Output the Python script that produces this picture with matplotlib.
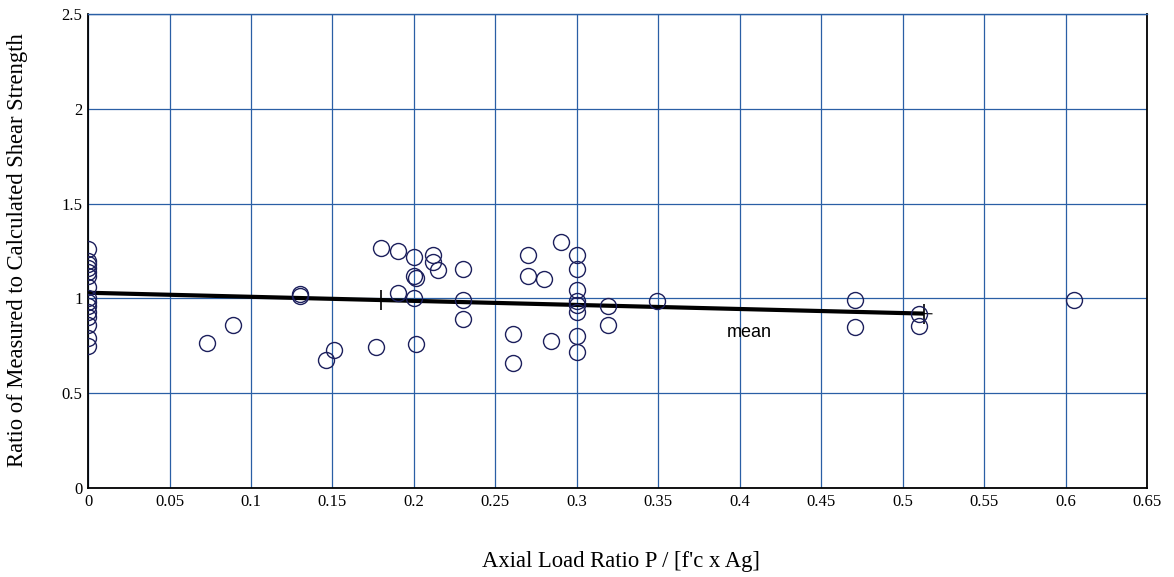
import matplotlib
matplotlib.use("Agg")
import matplotlib.pyplot as plt
import numpy as np

# Test specimens: axial load ratio vs. measured / calculated shear strength
axial_ratio = [
    0, 0, 0, 0, 0, 0, 0, 0, 0, 0, 0, 0, 0, 0, 0,
    0.073, 0.089,
    0.130, 0.130,
    0.146, 0.151, 0.177,
    0.180, 0.190, 0.190,
    0.200, 0.200, 0.201, 0.200, 0.201,
    0.212, 0.212, 0.215,
    0.230, 0.230, 0.230,
    0.261, 0.261,
    0.270, 0.270, 0.280, 0.284, 0.290,
    0.300, 0.300, 0.300, 0.300, 0.300, 0.300, 0.300, 0.300,
    0.319, 0.319,
    0.349,
    0.471, 0.471,
    0.510, 0.510,
    0.605,
]
strength_ratio = [
    1.26, 1.20, 1.18, 1.16, 1.14, 1.12, 1.06, 1.00, 0.98, 0.96, 0.93, 0.90, 0.86, 0.79, 0.75,
    0.765, 0.86,
    1.025, 1.015,
    0.675, 0.728, 0.744,
    1.266, 1.25, 1.03,
    1.22, 1.12, 1.11, 1.00, 0.76,
    1.23, 1.19, 1.15,
    1.155, 0.99, 0.89,
    0.81, 0.66,
    1.23, 1.12, 1.10, 0.775, 1.30,
    1.23, 1.155, 1.045, 0.985, 0.965, 0.93, 0.80, 0.72,
    0.96, 0.86,
    0.985,
    0.99, 0.85,
    0.92, 0.855,
    0.99,
]

# Mean trend line end points and its bracket ticks
mean_x = [0.0, 0.513]
mean_y = [1.03, 0.92]
mean_tick_x = [0.18, 0.513]

x_ticks = [0, 0.05, 0.1, 0.15, 0.2, 0.25, 0.3, 0.35, 0.4, 0.45, 0.5, 0.55, 0.6, 0.65]
x_tick_labels = ["0", "0.05", "0.1", "0.15", "0.2", "0.25", "0.3", "0.35", "0.4",
                 "0.45", "0.5", "0.55", "0.6", "0.65"]
y_ticks = [0, 0.5, 1, 1.5, 2, 2.5]
y_tick_labels = ["0", "0.5", "1", "1.5", "2", "2.5"]

grid_blue = "#2a5fa5"
marker_navy = "#1c1f5c"
serif = ["Liberation Serif", "DejaVu Serif"]

fig = plt.figure(figsize=(11.74, 5.77), dpi=100)
ax = fig.add_axes([0.075, 0.1542, 0.902, 0.8215])

ax.set_xlim(0, 0.65)
ax.set_ylim(0, 2.5)
ax.set_xticks(x_ticks)
ax.set_xticklabels(x_tick_labels)
ax.set_yticks(y_ticks)
ax.set_yticklabels(y_tick_labels)
ax.tick_params(length=0, pad=4, labelsize=12)
for lab in ax.get_xticklabels() + ax.get_yticklabels():
    lab.set_family(serif)

ax.grid(True, color=grid_blue, linewidth=0.9, zorder=0)
ax.set_axisbelow(True)

for side in ("left", "bottom", "right"):
    ax.spines[side].set_color("black")
    ax.spines[side].set_linewidth(1.3)
ax.spines["top"].set_color(grid_blue)
ax.spines["top"].set_linewidth(1.0)

# Mean line with end ticks
ax.plot(mean_x, mean_y, color="black", linewidth=3.0, solid_capstyle="butt", zorder=3)
slope = (mean_y[1] - mean_y[0]) / (mean_x[1] - mean_x[0])
tick_y = [mean_y[0] + slope * (t - mean_x[0]) for t in mean_tick_x]
ax.plot(mean_tick_x, tick_y, linestyle="none", marker="|", markersize=14,
        markeredgewidth=1.2, color="black", zorder=3)
ax.plot([mean_x[1], 0.518], [mean_y[1], mean_y[1] - 0.001], color="black",
        linewidth=0.8, zorder=3)
ax.text(0.406, 0.82, "mean", family=["Liberation Sans", "DejaVu Sans"],
        fontsize=13, ha="center", va="center", zorder=4)

# Specimen markers
ax.plot(axial_ratio, strength_ratio, linestyle="none", marker="o", markersize=11.5,
        markerfacecolor="none", markeredgecolor=marker_navy, markeredgewidth=1.0,
        zorder=4)

# Axis titles placed in figure coordinates
fig.text(621 / 1174, 1 - 562 / 577, "Axial Load Ratio P / [f'c x Ag]", family=serif,
         fontsize=16.3, ha="center", va="center")
fig.text(18 / 1174, 1 - 250 / 577, "Ratio of Measured to Calculated Shear Strength",
         family=serif, fontsize=16.3, ha="center", va="center", rotation=90)

fig.savefig("out.png", dpi=100)
